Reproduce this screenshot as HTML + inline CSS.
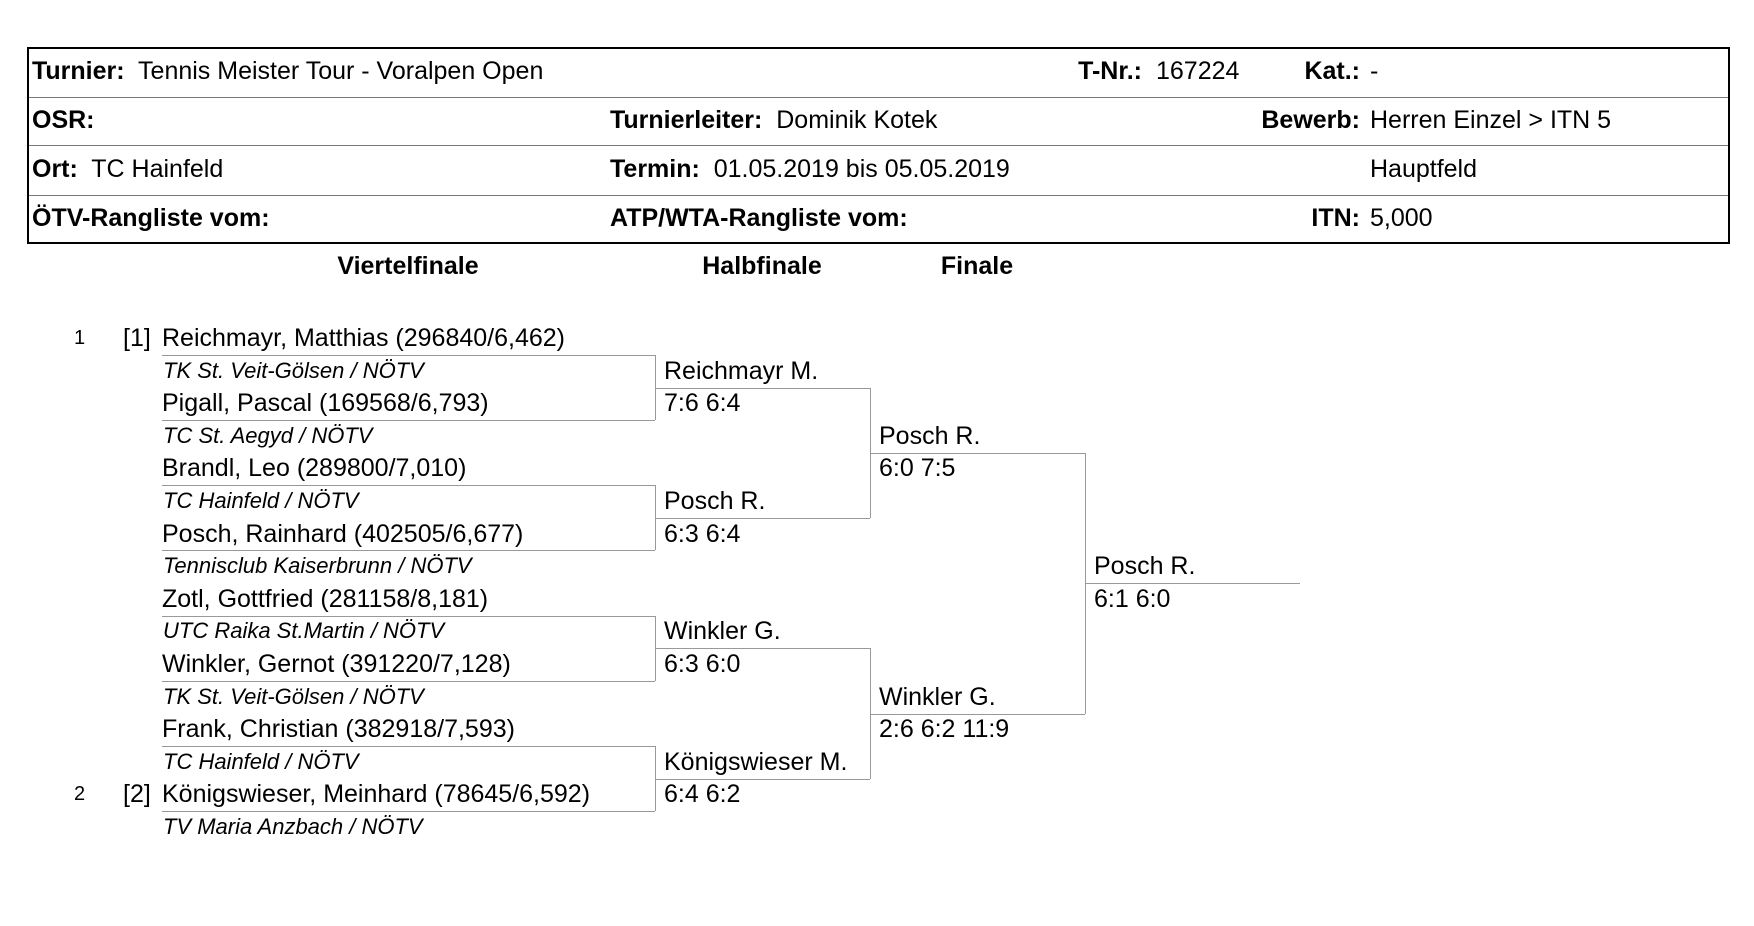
<!DOCTYPE html>
<html><head><meta charset="utf-8"><style>
body{margin:0;width:1754px;height:926px;background:#fff;position:relative;overflow:hidden;font-family:"Liberation Sans",Arial,sans-serif;color:#000}
.a{position:absolute;white-space:nowrap}
.t{font-size:25px;line-height:49px;height:49px}
.b{font-weight:bold}
.r{text-align:right}
.n{font-size:25px;line-height:32px;height:32px}
.c{font-size:22px;font-style:italic;line-height:32px;height:32px}
.h{position:absolute;height:0;border-top:1px solid #999}
.v{position:absolute;width:0;border-left:1px solid #999}
</style></head><body>
<div class="a" style="left:27px;top:47px;width:1701px;height:193px;border:2px solid #000;box-sizing:content-box;width:1699px"></div>
<div class="h" style="left:29px;top:97px;width:1699px;border-color:#777"></div>
<div class="h" style="left:29px;top:145px;width:1699px;border-color:#777"></div>
<div class="h" style="left:29px;top:195px;width:1699px;border-color:#777"></div>

<div class="a t" style="left:32px;top:47px"><b>Turnier:</b>&nbsp; Tennis Meister Tour - Voralpen Open</div>
<div class="a t b r" style="left:990px;top:47px;width:152px">T-Nr.:</div>
<div class="a t" style="left:1156px;top:47px">167224</div>
<div class="a t b r" style="left:1200px;top:47px;width:160px">Kat.:</div>
<div class="a t" style="left:1370px;top:47px">-</div>

<div class="a t b" style="left:32px;top:96px">OSR:</div>
<div class="a t" style="left:610px;top:96px"><b>Turnierleiter:</b>&nbsp; Dominik Kotek</div>
<div class="a t b r" style="left:1160px;top:96px;width:200px">Bewerb:</div>
<div class="a t" style="left:1370px;top:96px">Herren Einzel &gt; ITN 5</div>

<div class="a t" style="left:32px;top:145px"><b>Ort:</b>&nbsp; TC Hainfeld</div>
<div class="a t" style="left:610px;top:145px"><b>Termin:</b>&nbsp; 01.05.2019 bis 05.05.2019</div>
<div class="a t" style="left:1370px;top:145px">Hauptfeld</div>

<div class="a t b" style="left:32px;top:194px">ÖTV-Rangliste vom:</div>
<div class="a t b" style="left:610px;top:194px">ATP/WTA-Rangliste vom:</div>
<div class="a t b r" style="left:1160px;top:194px;width:200px">ITN:</div>
<div class="a t" style="left:1370px;top:194px">5,000</div>

<div class="a t b" style="left:278px;top:242px;width:260px;text-align:center">Viertelfinale</div>
<div class="a t b" style="left:632px;top:242px;width:260px;text-align:center">Halbfinale</div>
<div class="a t b" style="left:847px;top:242px;width:260px;text-align:center">Finale</div>

<div class="a n" style="left:74px;top:322px;font-size:20px">1</div>
<div class="a n" style="left:123px;top:322px">[1]</div>
<div class="a n" style="left:162px;top:322px">Reichmayr, Matthias (296840/6,462)</div>
<div class="a c" style="left:163px;top:355px">TK St. Veit-Gölsen / NÖTV</div>
<div class="a n" style="left:162px;top:387px">Pigall, Pascal (169568/6,793)</div>
<div class="a c" style="left:163px;top:420px">TC St. Aegyd / NÖTV</div>
<div class="a n" style="left:162px;top:452px">Brandl, Leo (289800/7,010)</div>
<div class="a c" style="left:163px;top:485px">TC Hainfeld / NÖTV</div>
<div class="a n" style="left:162px;top:518px">Posch, Rainhard (402505/6,677)</div>
<div class="a c" style="left:163px;top:550px">Tennisclub Kaiserbrunn / NÖTV</div>
<div class="a n" style="left:162px;top:583px">Zotl, Gottfried (281158/8,181)</div>
<div class="a c" style="left:163px;top:615px">UTC Raika St.Martin / NÖTV</div>
<div class="a n" style="left:162px;top:648px">Winkler, Gernot (391220/7,128)</div>
<div class="a c" style="left:163px;top:681px">TK St. Veit-Gölsen / NÖTV</div>
<div class="a n" style="left:162px;top:713px">Frank, Christian (382918/7,593)</div>
<div class="a c" style="left:163px;top:746px">TC Hainfeld / NÖTV</div>
<div class="a n" style="left:74px;top:778px;font-size:20px">2</div>
<div class="a n" style="left:123px;top:778px">[2]</div>
<div class="a n" style="left:162px;top:778px">Königswieser, Meinhard (78645/6,592)</div>
<div class="a c" style="left:163px;top:811px">TV Maria Anzbach / NÖTV</div>

<div class="h" style="left:162px;top:355px;width:493px"></div>
<div class="h" style="left:162px;top:420px;width:493px"></div>
<div class="v" style="left:655px;top:355px;height:65px"></div>
<div class="h" style="left:162px;top:485px;width:493px"></div>
<div class="h" style="left:162px;top:550px;width:493px"></div>
<div class="v" style="left:655px;top:485px;height:65px"></div>
<div class="h" style="left:162px;top:616px;width:493px"></div>
<div class="h" style="left:162px;top:681px;width:493px"></div>
<div class="v" style="left:655px;top:616px;height:65px"></div>
<div class="h" style="left:162px;top:746px;width:493px"></div>
<div class="h" style="left:162px;top:811px;width:493px"></div>
<div class="v" style="left:655px;top:746px;height:65px"></div>

<div class="a n" style="left:664px;top:355px">Reichmayr M.</div>
<div class="a n" style="left:664px;top:387px">7:6 6:4</div>
<div class="a n" style="left:664px;top:485px">Posch R.</div>
<div class="a n" style="left:664px;top:518px">6:3 6:4</div>
<div class="a n" style="left:664px;top:615px">Winkler G.</div>
<div class="a n" style="left:664px;top:648px">6:3 6:0</div>
<div class="a n" style="left:664px;top:746px">Königswieser M.</div>
<div class="a n" style="left:664px;top:778px">6:4 6:2</div>
<div class="h" style="left:655px;top:388px;width:215px"></div>
<div class="h" style="left:655px;top:518px;width:215px"></div>
<div class="v" style="left:870px;top:388px;height:130px"></div>
<div class="h" style="left:655px;top:648px;width:215px"></div>
<div class="h" style="left:655px;top:779px;width:215px"></div>
<div class="v" style="left:870px;top:648px;height:131px"></div>

<div class="a n" style="left:879px;top:420px">Posch R.</div>
<div class="a n" style="left:879px;top:452px">6:0 7:5</div>
<div class="a n" style="left:879px;top:681px">Winkler G.</div>
<div class="a n" style="left:879px;top:713px">2:6 6:2 11:9</div>
<div class="h" style="left:870px;top:453px;width:215px"></div>
<div class="h" style="left:870px;top:714px;width:215px"></div>
<div class="v" style="left:1085px;top:453px;height:261px"></div>

<div class="a n" style="left:1094px;top:550px">Posch R.</div>
<div class="a n" style="left:1094px;top:583px">6:1 6:0</div>
<div class="h" style="left:1085px;top:583px;width:215px"></div>
</body></html>
